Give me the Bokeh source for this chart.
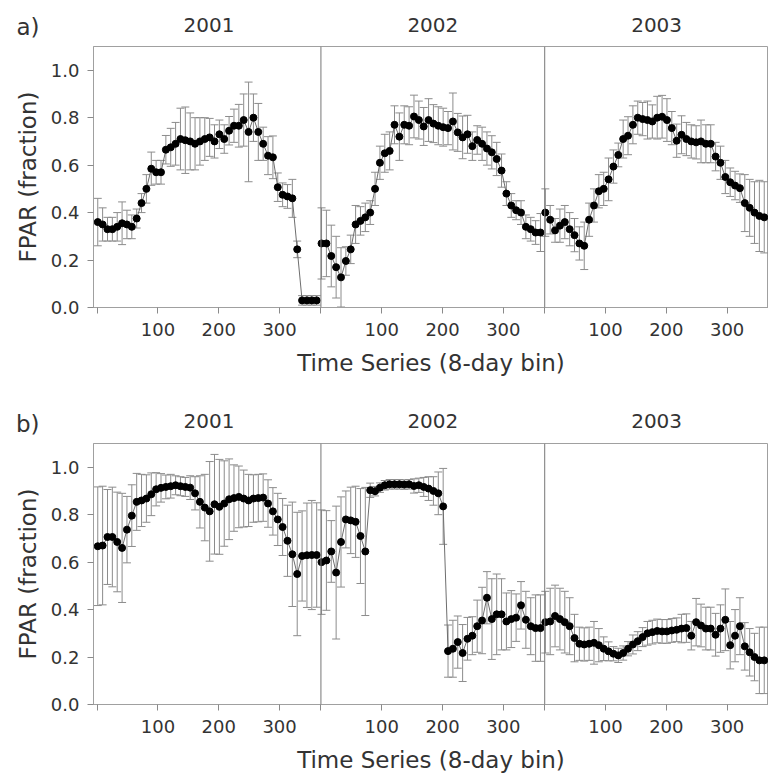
from bokeh.plotting import figure
from bokeh.models import (ColumnDataSource, Whisker, TeeHead, Span,
                          FixedTicker, NumeralTickFormatter, Range1d)
from bokeh.core.properties import value
from bokeh.layouts import column
from bokeh.embed import file_html
from bokeh.resources import INLINE

YEARS = ["2001", "2002", "2003"]
BIN_DAY = list(range(1, 362, 8))          # 46 eight-day bins per year
YEAR_SPAN = 368                           # 46 bins x 8 days
X_TICKS_IN_YEAR = [0, 100, 200, 300]
Y_TICKS = [0.0, 0.2, 0.4, 0.6, 0.8, 1.0]

# ---- panel a ----
a_2001 = [0.36, 0.35, 0.33, 0.33, 0.34, 0.355, 0.35, 0.34, 0.375, 0.44,
          0.50, 0.585, 0.57, 0.57, 0.665, 0.675, 0.69, 0.71, 0.705, 0.70,
          0.69, 0.70, 0.71, 0.717, 0.70, 0.73, 0.71, 0.745, 0.766, 0.766,
          0.79, 0.74, 0.80, 0.74, 0.69, 0.64, 0.633, 0.507, 0.475, 0.468,
          0.46, 0.245, 0.03, 0.03, 0.03, 0.03]
a_2001_err = [0.10, 0.07, 0.05, 0.05, 0.06, 0.09, 0.06, 0.05, 0.04, 0.04,
              0.06, 0.07, 0.05, 0.05, 0.06, 0.08, 0.09, 0.13, 0.14, 0.12,
              0.11, 0.10, 0.09, 0.08, 0.07, 0.06, 0.06, 0.06, 0.07, 0.09,
              0.11, 0.21, 0.10, 0.12, 0.07, 0.08, 0.09, 0.06, 0.05, 0.05,
              0.08, 0.035, 0.02, 0.02, 0.02, 0.02]
a_2002 = [0.27, 0.27, 0.217, 0.17, 0.127, 0.196, 0.245, 0.35, 0.365, 0.38,
          0.40, 0.50, 0.61, 0.65, 0.66, 0.77, 0.72, 0.77, 0.766, 0.805,
          0.79, 0.763, 0.79, 0.775, 0.766, 0.76, 0.756, 0.784, 0.738, 0.717,
          0.73, 0.68, 0.706, 0.69, 0.67, 0.654, 0.626, 0.577, 0.48, 0.43,
          0.41, 0.40, 0.34, 0.33, 0.316, 0.316]
a_2002_err = [0.15, 0.14, 0.13, 0.13, 0.125, 0.06, 0.06, 0.08, 0.06, 0.06,
              0.05, 0.07, 0.07, 0.08, 0.08, 0.08, 0.10, 0.08, 0.08, 0.09,
              0.08, 0.08, 0.09, 0.08, 0.08, 0.08, 0.07, 0.12, 0.08, 0.09,
              0.08, 0.06, 0.06, 0.07, 0.07, 0.07, 0.07, 0.07, 0.05, 0.05,
              0.04, 0.05, 0.05, 0.05, 0.05, 0.08]
a_2003 = [0.40, 0.37, 0.325, 0.345, 0.36, 0.33, 0.305, 0.27, 0.26, 0.37,
          0.43, 0.49, 0.50, 0.54, 0.594, 0.643, 0.71, 0.724, 0.77, 0.80,
          0.794, 0.79, 0.784, 0.80, 0.804, 0.79, 0.756, 0.703, 0.728, 0.71,
          0.70, 0.696, 0.70, 0.69, 0.69, 0.636, 0.61, 0.55, 0.528, 0.514,
          0.503, 0.44, 0.42, 0.40, 0.386, 0.38]
a_2003_err = [0.10, 0.06, 0.05, 0.07, 0.07, 0.07, 0.07, 0.07, 0.10, 0.07,
              0.07, 0.07, 0.07, 0.09, 0.07, 0.05, 0.08, 0.08, 0.08, 0.07,
              0.07, 0.08, 0.07, 0.09, 0.09, 0.09, 0.07, 0.07, 0.08, 0.07,
              0.07, 0.07, 0.09, 0.08, 0.08, 0.06, 0.07, 0.07, 0.06, 0.06,
              0.06, 0.12, 0.12, 0.13, 0.15, 0.15]

# ---- panel b ----
b_2001 = [0.667, 0.67, 0.706, 0.706, 0.685, 0.66, 0.737, 0.796, 0.854, 0.86,
          0.868, 0.886, 0.907, 0.913, 0.917, 0.92, 0.924, 0.92, 0.917, 0.914,
          0.89, 0.854, 0.83, 0.814, 0.844, 0.833, 0.847, 0.865, 0.87, 0.875,
          0.868, 0.86, 0.868, 0.87, 0.872, 0.847, 0.814, 0.78, 0.748, 0.69,
          0.633, 0.55, 0.626, 0.629, 0.63, 0.63]
b_2001_err = [0.25, 0.25, 0.20, 0.21, 0.21, 0.23, 0.14, 0.13, 0.12, 0.11,
              0.10, 0.09, 0.07, 0.06, 0.05, 0.05, 0.04, 0.04, 0.04, 0.05,
              0.07, 0.11, 0.14, 0.21, 0.21, 0.20, 0.18, 0.17, 0.14, 0.13,
              0.12, 0.11, 0.10, 0.10, 0.10, 0.10, 0.10, 0.11, 0.12, 0.15,
              0.22, 0.26, 0.19, 0.22, 0.23, 0.22]
b_2002 = [0.60, 0.607, 0.645, 0.556, 0.685, 0.78, 0.776, 0.77, 0.71, 0.645,
          0.903, 0.899, 0.914, 0.924, 0.928, 0.928, 0.928, 0.927, 0.928, 0.921,
          0.924, 0.917, 0.91, 0.90, 0.89, 0.835, 0.225, 0.235, 0.263, 0.217,
          0.277, 0.29, 0.33, 0.354, 0.45, 0.36, 0.38, 0.38, 0.35, 0.36,
          0.366, 0.418, 0.357, 0.33, 0.322, 0.322]
b_2002_err = [0.22, 0.21, 0.13, 0.28, 0.19, 0.12, 0.14, 0.15, 0.20, 0.27,
              0.03, 0.02, 0.02, 0.02, 0.02, 0.02, 0.02, 0.02, 0.02, 0.03,
              0.03, 0.04, 0.05, 0.06, 0.09, 0.16, 0.11, 0.12, 0.11, 0.12,
              0.09, 0.08, 0.11, 0.14, 0.11, 0.17, 0.17, 0.15, 0.12, 0.12,
              0.10, 0.10, 0.12, 0.12, 0.14, 0.14]
b_2003 = [0.347, 0.35, 0.373, 0.36, 0.347, 0.33, 0.28, 0.256, 0.253, 0.256,
          0.26, 0.25, 0.235, 0.224, 0.214, 0.207, 0.217, 0.235, 0.253, 0.267,
          0.284, 0.30, 0.305, 0.31, 0.308, 0.308, 0.312, 0.315, 0.32, 0.322,
          0.29, 0.347, 0.333, 0.32, 0.32, 0.294, 0.32, 0.357, 0.25, 0.29,
          0.33, 0.245, 0.22, 0.20, 0.186, 0.186]
b_2003_err = [0.13, 0.14, 0.13, 0.13, 0.13, 0.12, 0.10, 0.07, 0.07, 0.07,
              0.09, 0.07, 0.05, 0.04, 0.03, 0.03, 0.03, 0.03, 0.04, 0.04,
              0.04, 0.05, 0.05, 0.05, 0.05, 0.05, 0.05, 0.05, 0.06, 0.06,
              0.06, 0.10, 0.09, 0.09, 0.09, 0.09, 0.10, 0.13, 0.10, 0.11,
              0.12, 0.10, 0.10, 0.10, 0.14, 0.14]

FONT = "DejaVu Sans"
TXT = "#333333"
GRAY = "#8c8c8c"
W = 768
LEFT = 93
X0, X1 = -6, 1104


def make_header(tag, height, y_years, y_tag):
    # strip above each panel, sharing the panel's day scale; the panel tag
    # is the single label of a bare left axis so it can sit left of the frame
    h = figure(width=W, height=height, output_backend="svg",
               toolbar_location=None,
               x_range=Range1d(X0, X1), y_range=Range1d(0, height),
               x_axis_location=None,
               min_border_left=LEFT, min_border_right=0,
               min_border_top=0, min_border_bottom=0)
    h.grid.visible = False
    h.outline_line_color = None
    ya = h.yaxis[0]
    ya.ticker = FixedTicker(ticks=[y_tag])
    ya.major_label_overrides = {y_tag: tag}
    ya.axis_line_color = None
    ya.major_tick_line_color = None
    ya.minor_tick_line_color = None
    ya.major_tick_out = 0
    ya.major_tick_in = 0
    ya.major_label_standoff = 54
    ya.major_label_text_font = FONT
    ya.major_label_text_font_size = "23px"
    ya.major_label_text_color = TXT
    centers = [k * YEAR_SPAN + YEAR_SPAN / 2 for k in range(3)]
    h.text(x=centers, y=[y_years] * 3, text=YEARS,
           text_font=value(FONT), text_font_size=value("20px"),
           text_align="center", text_baseline="middle", text_color=TXT)
    return h


def make_panel(series, errs, height, bottom):
    p = figure(width=W, height=height, x_range=Range1d(X0, X1),
               y_range=Range1d(0, 1.1), output_backend="svg",
               toolbar_location=None, min_border_left=LEFT,
               min_border_right=0, min_border_top=1,
               min_border_bottom=bottom)
    p.grid.visible = False
    p.outline_line_color = "#a0a0a0"
    p.outline_line_width = 1

    xticks = [k * YEAR_SPAN + t for k in range(3) for t in X_TICKS_IN_YEAR]
    overrides = {k * YEAR_SPAN + t: (str(t) if t else "")
                 for k in range(3) for t in X_TICKS_IN_YEAR}
    xa = p.xaxis[0]
    xa.ticker = FixedTicker(ticks=xticks)
    xa.major_label_overrides = overrides
    xa.axis_label = "Time Series (8-day bin)"
    ya = p.yaxis[0]
    ya.ticker = FixedTicker(ticks=Y_TICKS)
    ya.formatter = NumeralTickFormatter(format="0.0")
    ya.axis_label = "FPAR (fraction)"
    for ax in (xa, ya):
        ax.axis_line_color = "#a0a0a0"
        ax.major_tick_line_color = "#8a8a8a"
        ax.major_tick_out = 6
        ax.major_tick_in = 0
        ax.minor_tick_line_color = None
        ax.major_label_text_font = FONT
        ax.major_label_text_font_size = "18px"
        ax.major_label_text_color = TXT
        ax.axis_label_text_font = FONT
        ax.axis_label_text_font_size = "23px"
        ax.axis_label_text_font_style = "normal"
        ax.axis_label_text_color = TXT
    xa.major_label_standoff = 9
    xa.axis_label_standoff = 11
    ya.major_label_standoff = 8
    ya.axis_label_standoff = 7

    for k in (1, 2):
        p.add_layout(Span(location=k * YEAR_SPAN, dimension="height",
                          line_color="#777777", line_width=1))

    for k, (vals, err) in enumerate(zip(series, errs)):
        xs = [k * YEAR_SPAN + d for d in BIN_DAY]
        src = ColumnDataSource(dict(
            x=xs, y=vals,
            lo=[v - e for v, e in zip(vals, err)],
            hi=[v + e for v, e in zip(vals, err)]))
        p.add_layout(Whisker(
            source=src, base="x", lower="lo", upper="hi",
            line_color=GRAY, line_width=1,
            upper_head=TeeHead(size=8, line_color=GRAY, line_width=1),
            lower_head=TeeHead(size=8, line_color=GRAY, line_width=1)))
        p.line("x", "y", source=src, line_color="#6e6e6e", line_width=1)
        p.scatter("x", "y", source=src, size=7, color="black")
    return p


ha = make_header("a)", 45, 21, 19)
pa = make_panel([a_2001, a_2002, a_2003],
                [a_2001_err, a_2002_err, a_2003_err], 343, 81)
hb = make_header("b)", 54, 22, 19)
pb = make_panel([b_2001, b_2002, b_2003],
                [b_2001_err, b_2002_err, b_2003_err], 335, 73)

layout = column(ha, pa, hb, pb, spacing=0)
open("out.html", "w").write(file_html(layout, INLINE))
